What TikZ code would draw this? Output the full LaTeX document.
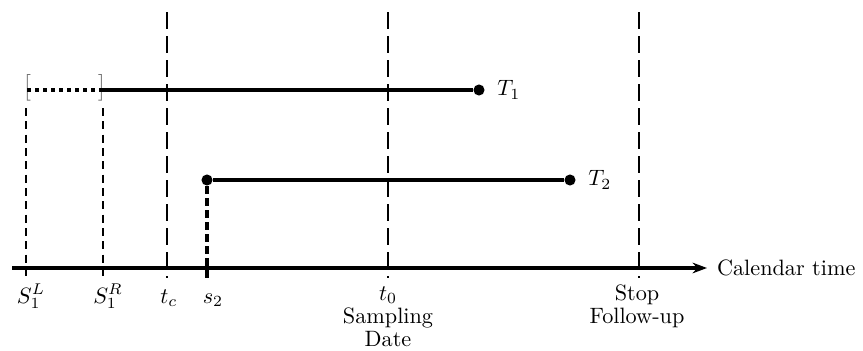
\documentclass[tikz,border=0pt]{standalone}
\usepackage{amsmath}
\usepackage{tikz}
\usetikzlibrary{arrows.meta, positioning}

\begin{document}
\begin{tikzpicture}[
  x=0.45pt, y=-0.45pt,
  vline/.style={dash pattern=on 7.6pt off 3.2pt, line width=1.1pt},
  sline/.style={dash pattern=on 3.6pt off 2.4pt, line width=1.1pt},
  sdash/.style={dash pattern=on 3.4pt off 2pt, line width=1.4pt},
  dotseg/.style={dash pattern=on 1.8pt off 1.8pt, line width=1.7pt},
  seg/.style={line width=1.8pt},
  dot/.style={circle, fill, inner sep=0pt, minimum size=5pt},
  brk/.style={text=black!55, inner sep=0pt, font=\fontsize{12}{14}\selectfont},
  lbl/.style={anchor=base, inner sep=0pt}
]
\useasboundingbox (0,0) rectangle (863,351);

% long dashed markers
\foreach \n/\x in {tc/167, t0/388, stop/639} {
  \coordinate (\n top) at (\x,12);
  \coordinate (\n bot) at (\x,278);
  \draw[vline] (\n top) -- (\n bot);
}

% censoring interval of subject 1
\node[brk, anchor=west] (lbr) at (23.5,87.5) {[};
\node[brk, anchor=east] (rbr) at (105.5,87.5) {]};
\coordinate (sl top) at (26,108);
\coordinate (sl bot) at (26,278);
\coordinate (sr top) at (103,108);
\coordinate (sr bot) at (103,278);
\draw[sline] (sl top) -- (sl bot);
\draw[sline] (sr top) -- (sr bot);

% subject 1
\coordinate (a1) at (27,90);
\coordinate (b1) at (103,90);
\node[dot] (e1) at (479,90) {};
\node[right=2pt of e1] (T1) {$T_1$};
\draw[dotseg] (a1) -- (b1);
\draw[seg] (b1) -- (e1);

% subject 2
\node[dot] (s2dot) at (207,180) {};
\node[dot] (e2) at (570,180) {};
\node[right=2pt of e2] (T2) {$T_2$};
\coordinate (s2 bot) at (207,278);
\draw[sdash] (s2dot) -- (s2 bot);
\draw[line width=1.5pt] (s2dot) -- (e2);

% calendar axis
\coordinate (ax0) at (12,268);
\coordinate (ax1) at (707,268);
\draw[line width=1.6pt, -{Stealth[length=6.5pt, width=4.8pt]}] (ax0) -- (ax1);
\node[right=1pt of ax1] (cal) {Calendar time};

% axis labels
\node[lbl] (lsl) at (31,303) {$S_1^L$};
\node[lbl] (lsr) at (108,303) {$S_1^R$};
\node[lbl] (ltc) at (169,303) {$t_c$};
\node[lbl] (ls2) at (213,303) {$s_2$};
\node[lbl] (lt0) at (388,300) {$t_0$};
\node[lbl] (samp) at (388,323) {Sampling};
\node[lbl] (date) at (388,346) {Date};
\node[lbl] (stop) at (637,300) {Stop};
\node[lbl] (fup) at (637,323) {Follow-up};
\end{tikzpicture}
\end{document}
